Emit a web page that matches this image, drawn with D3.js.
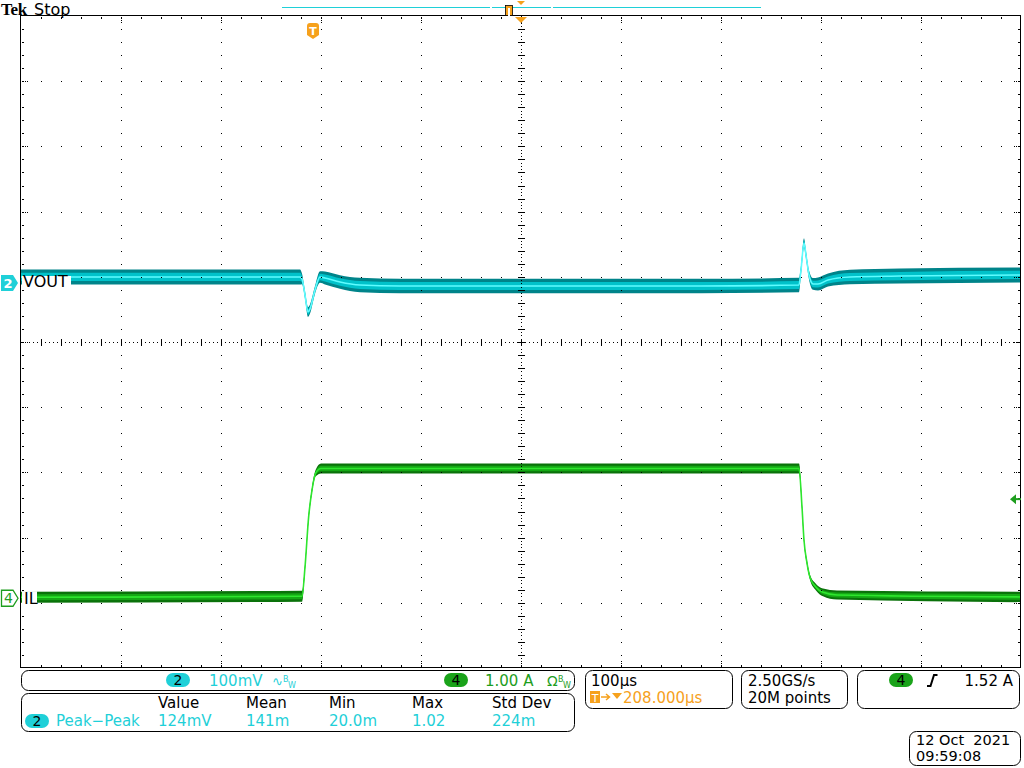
<!DOCTYPE html>
<html><head><meta charset="utf-8">
<script src="https://cdn.jsdelivr.net/npm/d3@7"></script>
<style>
body{margin:0;background:#fff}
svg{display:block}
text{font-family:"DejaVu Sans",sans-serif;white-space:pre}
</style>
</head><body>
<svg id="c" width="1024" height="768"></svg>
<script>
// ---------------- data ----------------
// time in µs relative to trigger; 100 µs/div, trigger 208 µs left of centre
const timeDomain = [-292, 708];
// Channel 2 (VOUT), AC coupled, 100 mV/div
const vTime  = [-292, -13, -11, -8, -5, -3, 2, 7, 12, 27, 47, 87, 208, 388, 486, 488, 491, 493, 496, 500, 505, 515, 537, 587, 708];
const vMv    = [9.2, 9.2, 6.1, -18.4, -44.5, -39.9, -10.7, 9.2, 7.7, 1.5, -3.1, -4.6, -4.6, -4.6, -3.1, 19.9, 61.3, 42.9, 12.3, -1.5, -1.5, 4.6, 9.2, 10.7, 12.3];
const vNoise = [11.5, 11.5, 8, 6, 7.5, 7, 6, 9, 10, 10.5, 11, 11, 11, 11, 11, 7, 7.5, 6, 7, 9, 10, 10, 11, 11.5, 11.5];
// Channel 4 (IL), 1.00 A/div
const iTime  = [-292, -11, -8, -4.4, -1, 2.7, 8, 208, 486, 489, 491, 494, 497, 503, 510, 524, 708];
const iAmp   = [0.015, 0.03, 0.475, 1.24, 1.66, 1.92, 1.99, 1.99, 1.99, 1.40, 0.89, 0.54, 0.32, 0.17, 0.09, 0.05, 0.02];
const iNoise = [0.085, 0.085, 0.04, 0.035, 0.04, 0.05, 0.075, 0.078, 0.078, 0.04, 0.035, 0.035, 0.04, 0.05, 0.06, 0.07, 0.08];
// channel ground markers in divisions from screen centre
const ch2Position = 0.905;
const ch4Position = -3.93;
const triggerLevelA = 1.52;
// readouts
const ch2Scale = "100mV", ch4Scale = "1.00 A";
const measHeaders = ["Value", "Mean", "Min", "Max", "Std Dev"];
const measValues  = ["124mV", "141m", "20.0m", "1.02", "224m"];
const measName = "Peak\u2212Peak";
const horizScale = "100\u00b5s", triggerPos = "208.000\u00b5s";
const sampleRate = "2.50GS/s", recordLen = "20M points";
const trigLevelText = "1.52 A";
const dateText = "12 Oct\u00a0 2021", timeText = "09:59:08";

// ---------------- colours ----------------
const CYAN = "#1fd0d8", GREEN = "#1e9e1e", ORANGE = "#f6a11c";

const svg = d3.select("#c");
const L = 21, R = 1021, T = 16, B = 668;
const xDiv = d3.scaleLinear([0, 10], [L, R]);
const yDiv = d3.scaleLinear([0, 10], [T, B]);
const x = d3.scaleLinear(timeDomain, [L, R]);
const yV = d3.scaleLinear([0, 100], [yDiv(5 - ch2Position), yDiv(4 - ch2Position)]);
const yI = d3.scaleLinear([0, 1], [yDiv(5 - ch4Position), yDiv(4 - ch4Position)]);

const plot = svg.append("g");
plot.append("clipPath").attr("id", "clip").append("rect")
  .attr("x", L).attr("y", T).attr("width", R - L).attr("height", B - T);

function trace(times, vals, noise, ys, cols) {
  const pts = times.map((t, i) => ({t, v: vals[i], n: noise[i]}));
  const g = plot.append("g").attr("clip-path", "url(#clip)");
  const area = k => d3.area().x(d => x(d.t)).y0(d => ys(d.v - d.n * k)).y1(d => ys(d.v + d.n * k)).curve(d3.curveMonotoneX);
  g.append("path").datum(pts).attr("d", area(1)).attr("fill", cols[0]);
  g.append("path").datum(pts).attr("d", area(0.55)).attr("fill", cols[1]);
  g.append("path").datum(pts).attr("d", d3.line().x(d => x(d.t)).y(d => ys(d.v)).curve(d3.curveMonotoneX))
    .attr("fill", "none").attr("stroke", cols[2]).attr("stroke-width", 1.6);
}
trace(vTime, vMv, vNoise, yV, ["#00848a", "#00c2ca", "#5ffcff"]);
trace(iTime, iAmp, iNoise, yI, ["#0a720a", "#14a814", "#2ee62e"]);

// ---------------- graticule ----------------
const grid = svg.append("g").attr("fill", "#000");
const dot = (px, py, w = 1, h = 1) => grid.append("rect")
  .attr("x", Math.round(px)).attr("y", Math.round(py)).attr("width", w).attr("height", h);
const minorX = d3.range(1, 50).map(k => xDiv(k / 5));
const minorY = d3.range(1, 50).map(k => yDiv(k / 5));
d3.range(1, 10).filter(i => i !== 5).forEach(i => minorY.forEach(py => dot(xDiv(i), py)));
d3.range(1, 10).filter(i => i !== 5).forEach(i => minorX.forEach(px => dot(px, yDiv(i))));
d3.range(T, B, 13.04 / 4).forEach(py => dot(xDiv(5), py));
minorY.forEach(py => dot(xDiv(5) - 3, py, 7, 1));
d3.range(L, R, 4).forEach(px => dot(px, yDiv(5)));
minorX.forEach(px => dot(px, yDiv(5) - 3, 1, 7));
svg.append("rect").attr("x", L - 0.5).attr("y", T - 0.5).attr("width", R - L).attr("height", B - T)
  .attr("fill", "none").attr("stroke", "#000").attr("stroke-width", 1);
minorX.forEach((px, k) => {
  const major = (k + 1) % 5 === 0;
  dot(px, T + 1, 1, 2); dot(px, B - 3, 1, 2);
  if (major) { dot(px, T + 4); dot(px, T + 6); dot(px, B - 5); dot(px, B - 7); }
});
minorY.forEach((py, k) => {
  const major = (k + 1) % 5 === 0;
  dot(L + 1, py, 2, 1); dot(R - 3, py, 2, 1);
  if (major) { dot(L + 4, py); dot(L + 6, py); dot(R - 5, py); dot(R - 7, py); }
});

// ---------------- trace labels / markers ----------------
const y2 = yV(0), y4 = yI(0);
svg.append("rect").attr("x", 22).attr("y", y2 - 7).attr("width", 49).attr("height", 13).attr("fill", "#fff");
svg.append("text").attr("x", 23).attr("y", y2 + 4).attr("font-size", 16).attr("fill", "#000").text("VOUT");
svg.append("path").attr("d", `M1,${y2 - 8}H13L18,${y2}L13,${y2 + 8}H1Z`).attr("fill", CYAN);
svg.append("text").attr("x", 8).attr("y", y2 + 5).attr("text-anchor", "middle").attr("font-size", 13)
  .attr("font-weight", "bold").attr("fill", "#fff").text("2");
svg.append("rect").attr("x", 22).attr("y", y4 - 7).attr("width", 15).attr("height", 14).attr("fill", "#fff");
svg.append("text").attr("x", 24).attr("y", y4 + 6).attr("font-size", 16).attr("fill", "#000").text("IL");
svg.append("path").attr("d", `M1.5,${y4 - 8}H13L18,${y4}L13,${y4 + 8}H1.5Z`).attr("fill", "#fff")
  .attr("stroke", GREEN).attr("stroke-width", 1.3);
svg.append("text").attr("x", 8.5).attr("y", y4 + 5).attr("text-anchor", "middle").attr("font-size", 14)
  .attr("fill", GREEN).text("4");
const yt = yI(triggerLevelA);
svg.append("path").attr("d", `M1010,${yt}L1016,${yt - 5}V${yt + 5}Z`).attr("fill", GREEN);
svg.append("line").attr("x1", 1015).attr("x2", 1021).attr("y1", yt).attr("y2", yt).attr("stroke", GREEN).attr("stroke-width", 2);

// ---------------- top bar ----------------
svg.append("text").attr("x", 1).attr("y", 15.2).style("font-family", "'Liberation Serif', serif").attr("font-weight", "bold")
  .attr("font-size", 17).style("letter-spacing", "-0.3px").attr("fill", "#000").text("Tek");
svg.append("text").attr("x", 34).attr("y", 14.5).attr("font-size", 16).attr("fill", "#000").text("Stop");
[[282, 490], [492, 551], [553, 761]].forEach(s => svg.append("line").attr("x1", s[0]).attr("x2", s[1])
  .attr("y1", 7.5).attr("y2", 7.5).attr("stroke", CYAN).attr("stroke-width", 1));
svg.append("rect").attr("x", 505.5).attr("y", 5.5).attr("width", 7).attr("height", 10).attr("fill", ORANGE)
  .attr("stroke", "#000").attr("stroke-width", 0.8);
svg.append("rect").attr("x", 508).attr("y", 8).attr("width", 2).attr("height", 8).attr("fill", "#fff");
const xc = xDiv(5);
svg.append("path").attr("d", `M${xc - 4},1H${xc + 4}L${xc},5Z`).attr("fill", ORANGE);
svg.append("path").attr("d", `M${xc - 6},17H${xc + 6}L${xc},23Z`).attr("fill", ORANGE);
const xtr = x(0);
svg.append("path").attr("d", `M${xtr - 6},26Q${xtr - 6},23 ${xtr - 3},23H${xtr + 3}Q${xtr + 6},23 ${xtr + 6},26V35L${xtr},39L${xtr - 6},35Z`)
  .attr("fill", ORANGE);
svg.append("text").attr("x", xtr).attr("y", 35).attr("text-anchor", "middle").attr("font-size", 11)
  .attr("font-weight", "bold").attr("fill", "#fff").text("T");

// ---------------- bottom readouts ----------------
const panel = (x0, y0, x1, y1) => svg.append("rect").attr("x", x0 + 0.5).attr("y", y0 + 0.5)
  .attr("width", x1 - x0).attr("height", y1 - y0).attr("rx", 7).attr("fill", "#fff")
  .attr("stroke", "#000").attr("stroke-width", 1);
const txt = (px, py, s, col, opt = {}) => svg.append("text").attr("x", px).attr("y", py)
  .attr("font-size", opt.size || 15).attr("fill", col).attr("text-anchor", opt.anchor || "start").text(s);
const pill = (cx, cy, col, s) => {
  svg.append("rect").attr("x", cx - 12).attr("y", cy - 7).attr("width", 24).attr("height", 14).attr("rx", 7).attr("fill", col);
  txt(cx, cy + 5, s, "#000", {anchor: "middle", size: 14});
};
panel(21, 670, 574, 690);
pill(178, 680, CYAN, "2");
txt(209, 686, ch2Scale, CYAN);
txt(272, 686, "\u223f", CYAN, {size: 13});
txt(283, 682, "B", CYAN, {size: 8}); txt(288, 688, "W", CYAN, {size: 8});
pill(456, 680, "#1aa31a", "4");
txt(485, 686, ch4Scale, GREEN);
txt(547, 686, "\u03a9", GREEN, {size: 14});
txt(558, 682, "B", GREEN, {size: 8}); txt(563, 688, "W", GREEN, {size: 8});

panel(21, 693, 574, 731);
const colX = [158, 246, 329, 412, 492];
measHeaders.forEach((h, i) => txt(colX[i], 708, h, "#000"));
pill(37, 721, CYAN, "2");
txt(56, 726, measName, CYAN);
measValues.forEach((v, i) => txt(colX[i], 726, v, CYAN));

panel(585, 670, 732, 708);
txt(591, 686, horizScale, "#000");
svg.append("rect").attr("x", 590).attr("y", 691).attr("width", 10).attr("height", 12).attr("fill", ORANGE);
txt(595, 701.5, "T", "#fff", {anchor: "middle", size: 11});
svg.append("path").attr("d", "M601,697H609M606,694L609.5,697L606,700").attr("stroke", ORANGE).attr("stroke-width", 1.5).attr("fill", "none");
svg.append("path").attr("d", "M612,693H622L617,699Z").attr("fill", ORANGE);
txt(623, 702.5, triggerPos, ORANGE);

panel(741, 670, 847, 708);
txt(748, 686, sampleRate, "#000");
txt(748, 702.5, recordLen, "#000");

panel(857, 670, 1019, 708);
pill(901, 680, "#1aa31a", "4");
svg.append("path").attr("d", "M927,686H930.5L934,675H937.5").attr("stroke", "#000").attr("stroke-width", 2).attr("fill", "none");
txt(1013, 686, trigLevelText, "#000", {anchor: "end"});

panel(909, 731, 1020, 765);
txt(916, 745, dateText, "#000", {size: 14.5});
txt(916, 761, timeText, "#000", {size: 14.5});
</script>
</body></html>
